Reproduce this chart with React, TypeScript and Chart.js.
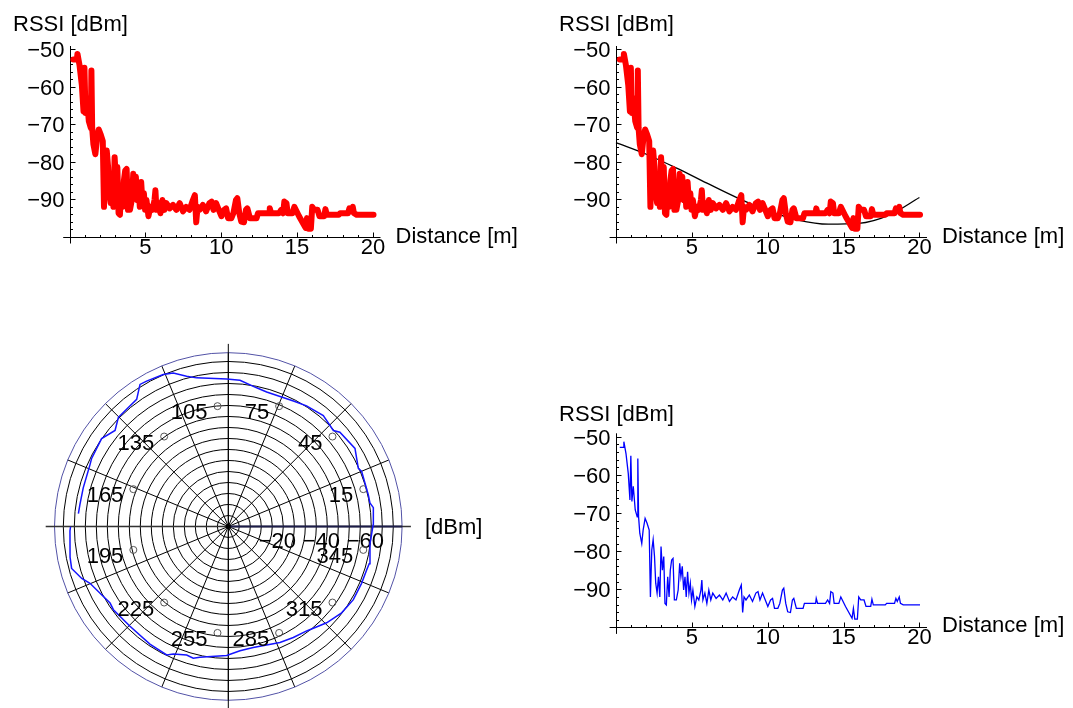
import { useEffect, useRef } from 'react';
import { Chart, registerables } from 'chart.js';

Chart.register(...registerables);

const FONT = '"Liberation Sans", "Helvetica Neue", Arial, sans-serif';
const MINUS = '\u2212';

// RSSI measured while walking away from the beacon (distance in m, RSSI in dBm)
const distance = [
  0.25, 0.48, 0.52, 0.66, 0.81, 0.92, 0.98, 1.05, 1.14, 1.27,
  1.40, 1.44, 1.49, 1.57, 1.70, 1.79, 1.92, 2.05, 2.19, 2.27,
  2.36, 2.45, 2.54, 2.62, 2.71, 2.80, 2.89, 2.97, 3.06, 3.15,
  3.23, 3.32, 3.41, 3.50, 3.58, 3.67, 3.76, 3.85, 3.98, 4.10,
  4.20, 4.28, 4.37, 4.46, 4.55, 4.63, 4.72, 4.81, 4.90, 4.98,
  5.07, 5.20, 5.33, 5.46, 5.60, 5.66, 5.73, 5.86, 5.99, 6.12,
  6.25, 6.38, 6.60, 6.82, 7.04, 7.26, 7.48, 7.69, 7.91, 8.13,
  8.26, 8.35, 8.44, 8.57, 8.79, 9.00, 9.22, 9.36, 9.49, 9.66,
  9.88, 10.01, 10.19, 10.32, 10.45, 10.67, 10.80, 10.97, 11.06, 11.19,
  11.32, 11.50, 11.63, 11.72, 11.89, 12.07, 12.33, 12.42, 12.94, 13.16,
  13.20, 13.29, 13.81, 13.95, 14.08, 14.16, 14.30, 14.38, 14.69, 14.82,
  15.13, 15.56, 15.65, 15.74, 15.91, 16.00, 16.13, 16.35, 16.48, 16.79,
  16.87, 16.96, 17.75, 17.84, 18.36, 18.45, 18.54, 18.67, 18.75, 18.93,
  20.04,
];
const rssi = [
  -52.8, -52.8, -51.3, -54.4, -59.6, -66.6, -55.0, -67.0, -63.0, -69.2,
  -71.0, -55.7, -71.0, -75.3, -78.0, -74.5, -71.4, -72.7, -74.5, -92.0,
  -79.7, -77.0, -81.4, -88.4, -91.0, -86.7, -92.0, -78.8, -85.0, -81.4,
  -93.7, -94.1, -86.7, -92.0, -85.0, -82.3, -81.9, -92.8, -92.8, -90.2,
  -83.2, -86.7, -84.0, -90.2, -86.7, -92.0, -85.4, -91.0, -88.4, -92.8,
  -90.2, -94.5, -92.0, -92.8, -90.2, -87.6, -92.8, -91.0, -93.7, -90.2,
  -92.8, -91.0, -92.4, -91.5, -92.8, -91.0, -93.2, -92.0, -92.8, -90.2,
  -88.9, -96.1, -92.0, -92.8, -91.5, -93.2, -91.0, -90.6, -92.8, -91.0,
  -93.2, -94.5, -92.8, -92.4, -95.0, -95.0, -93.7, -90.2, -89.7, -93.7,
  -95.9, -96.1, -92.8, -92.4, -95.0, -95.0, -95.0, -93.7, -93.7, -93.7,
  -92.4, -93.7, -93.7, -92.8, -93.7, -90.6, -91.0, -93.7, -93.7, -92.0,
  -94.5, -97.6, -95.0, -97.8, -97.8, -92.0, -92.8, -92.8, -94.5, -94.5,
  -92.6, -94.1, -94.1, -93.7, -93.7, -92.4, -93.2, -92.0, -93.7, -94.1,
  -94.1,
];

// Fitted trend through the trace
const fitDistance = [0, 2, 4, 6, 8, 10, 12, 14, 16, 18, 20];
const fitRssi = [-74.9, -78.0, -81.7, -85.7, -89.6, -93.0, -95.5, -96.6, -96.4, -94.2, -89.5];

// Axis ticks of the distance plots
const xMajorTicks = [5, 10, 15, 20];
const yMajorTicks = [-50, -60, -70, -80, -90];

// Radiation pattern: direction (deg) and RSSI (dBm)
const polarAngle = [
  -179.9, -178.4, -168.9, -164.8, -160.2, -157.4, -152.2, -146.7, -143.7, -134.2,
  -123.3, -115.3, -113.0, -107.7, -104.7, -102.1, -90.7, -84.7, -78.5, -66.3,
  -60.0, -53.5, -44.8, -37.7, -30.7, -23.4, -17.8, -15.0, -7.1, 0.9,
  7.5, 9.6, 13.0, 22.7, 24.4, 32.0, 40.6, 42.8, 49.8, 57.4,
  62.9, 74.3, 78.6, 85.5, 90.6, 101.9, 105.3, 109.5, 112.9, 119.0,
  121.5, 125.4, 134.8, 139.3, 144.9, 153.2, 155.7, 164.9, 171.4, 175.0,
];
const polarRssi = [
  -71.7, -72.0, -73.3, -73.8, -70.8, -68.1, -65.9, -64.3, -64.8, -64.1,
  -64.9, -65.5, -63.9, -62.2, -62.8, -61.7, -59.5, -57.5, -56.9, -58.4,
  -59.1, -59.9, -63.0, -65.1, -66.1, -66.0, -66.0, -66.3, -64.9, -65.9,
  -66.5, -65.3, -65.3, -65.7, -64.9, -67.9, -66.8, -65.1, -66.9, -66.0,
  -65.0, -64.4, -65.2, -67.6, -68.0, -70.0, -71.8, -75.0, -76.0, -76.6,
  -76.8, -71.9, -70.9, -67.9, -70.4, -69.6, -69.0, -68.3, -68.2, -68.4,
];
const polarRadialTicks = [-20, -40, -60];
const angleMarks = [15, 45, 75, 105, 135, 165, 195, 225, 255, 285, 315, 345];

// Polar grid geometry (radial units = |dBm|)
const RING_STEP = 5;
const RING_MAX = 75;
const FRAME_R = 79;
const AXIS_R = 83;
const MARK_RING = { cx: 9.1, cy: 3.2, r: 54.1 };

const rad = (d: number) => (d * Math.PI) / 180;

const cartesianAxes = {
  id: 'cartesianAxes',
  beforeDatasetsDraw(chart: any, _a: any, opts: any) {
    const { ctx } = chart;
    const xs = chart.scales.x;
    const ys = chart.scales.y;
    const ox = Math.round(xs.getPixelForValue(0)) + 0.5;
    const oy = Math.round(ys.getPixelForValue(-100)) + 0.5;
    ctx.save();
    ctx.strokeStyle = '#000';
    ctx.lineWidth = 1;
    ctx.beginPath();
    ctx.moveTo(xs.left, oy);
    ctx.lineTo(xs.right, oy);
    ctx.moveTo(ox, ys.top);
    ctx.lineTo(ox, ys.bottom);
    for (let v = 1; v <= 20; v++) {
      const px = Math.round(xs.getPixelForValue(v)) + 0.5;
      const len = v % 5 === 0 ? 5 : 2.5;
      ctx.moveTo(px, oy);
      ctx.lineTo(px, oy - len);
    }
    for (let v = -98; v <= -50; v += 2) {
      const py = Math.round(ys.getPixelForValue(v)) + 0.5;
      const len = v % 10 === 0 ? 5 : 2.5;
      ctx.moveTo(ox, py);
      ctx.lineTo(ox + len, py);
    }
    ctx.stroke();

    ctx.fillStyle = '#000';
    ctx.font = `22px ${FONT}`;
    ctx.textBaseline = 'alphabetic';
    ctx.textAlign = 'center';
    xMajorTicks.forEach((v) => ctx.fillText(String(v), xs.getPixelForValue(v), oy + 16.5));
    ctx.textAlign = 'right';
    yMajorTicks.forEach((v) => ctx.fillText(MINUS + Math.abs(v), ox - 6, ys.getPixelForValue(v) + 8));
    ctx.textAlign = 'left';
    ctx.fillText('Distance [m]', xs.right + 15, oy + opts.xTitleDy);
    ctx.textAlign = 'center';
    ctx.fillText('RSSI [dBm]', ox, ys.top - opts.yTitleGap);
    ctx.restore();
  },
};

const polarGrid = {
  id: 'polarGrid',
  beforeDatasetsDraw(chart: any) {
    const { ctx } = chart;
    const xs = chart.scales.x;
    const ys = chart.scales.y;
    const cx = xs.getPixelForValue(0);
    const cy = ys.getPixelForValue(0);
    const k = xs.getPixelForValue(1) - cx;
    ctx.save();
    ctx.strokeStyle = '#000';
    ctx.lineWidth = 1;
    ctx.beginPath();
    for (let r = RING_STEP; r <= RING_MAX; r += RING_STEP) {
      ctx.moveTo(cx + r * k, cy);
      ctx.arc(cx, cy, r * k, 0, Math.PI * 2);
    }
    for (let i = 0; i < 16; i++) {
      const a = rad(i * 22.5);
      ctx.moveTo(cx, cy);
      ctx.lineTo(cx + FRAME_R * k * Math.cos(a), cy - FRAME_R * k * Math.sin(a));
    }
    ctx.stroke();

    ctx.strokeStyle = '#5252a6';
    ctx.beginPath();
    ctx.arc(cx, cy, FRAME_R * k, 0, Math.PI * 2);
    ctx.stroke();

    // axes through the pole
    ctx.strokeStyle = '#333';
    ctx.lineWidth = 1.5;
    ctx.beginPath();
    ctx.moveTo(cx - AXIS_R * k, cy);
    ctx.lineTo(cx + AXIS_R * k, cy);
    ctx.stroke();
    ctx.strokeStyle = '#000';
    ctx.lineWidth = 1;
    ctx.beginPath();
    ctx.moveTo(cx, cy - AXIS_R * k);
    ctx.lineTo(cx, cy + AXIS_R * k);
    ctx.stroke();
    ctx.strokeStyle = '#1c1c48';
    ctx.lineWidth = 2;
    ctx.beginPath();
    ctx.moveTo(cx, cy);
    ctx.lineTo(cx + FRAME_R * k, cy);
    ctx.stroke();

    ctx.fillStyle = '#000';
    ctx.beginPath();
    ctx.arc(cx, cy, 2.5, 0, Math.PI * 2);
    ctx.fill();

    ctx.font = `22px ${FONT}`;
    ctx.textAlign = 'center';
    ctx.textBaseline = 'alphabetic';
    polarRadialTicks.forEach((v) => {
      ctx.fillText(MINUS + Math.abs(v), cx + Math.abs(v) * k + 5, cy + 22);
    });
    ctx.textAlign = 'left';
    ctx.textBaseline = 'middle';
    ctx.fillText('[dBm]', cx + AXIS_R * k + 14, cy + 1);
    ctx.restore();
  },
  afterDatasetsDraw(chart: any) {
    const { ctx } = chart;
    const meta = chart.getDatasetMeta(1);
    ctx.save();
    ctx.fillStyle = '#000';
    ctx.font = `22px ${FONT}`;
    ctx.textAlign = 'right';
    ctx.textBaseline = 'alphabetic';
    meta.data.forEach((pt: any, i: number) => {
      ctx.fillText(String(angleMarks[i]), pt.x - 10, pt.y + 13);
    });
    ctx.restore();
  },
};

type Box = { left: number; top: number; width: number; height: number };

function lineConfig(pad: any, xRange: number[], yRange: number[], datasets: any[], titles: any) {
  return {
    type: 'scatter',
    data: { datasets },
    options: {
      responsive: false,
      animation: false,
      devicePixelRatio: 1,
      events: [],
      layout: { padding: pad },
      plugins: { legend: { display: false }, tooltip: { enabled: false }, cartesianAxes: titles },
      scales: {
        x: { type: 'linear', display: false, min: xRange[0], max: xRange[1] },
        y: { type: 'linear', display: false, min: yRange[0], max: yRange[1] },
      },
    },
    plugins: [cartesianAxes],
  };
}

const trace = distance.map((d, i) => ({ x: d, y: rssi[i] }));
const fit = fitDistance.map((d, i) => ({ x: d, y: fitRssi[i] }));

const redTrace = {
  data: trace,
  showLine: true,
  borderColor: '#ff0000',
  backgroundColor: '#ff0000',
  borderWidth: 6,
  borderJoinStyle: 'round',
  borderCapStyle: 'round',
  pointRadius: 0,
  clip: false,
};

const panels: { box: Box; config: () => any }[] = [
  {
    box: { left: 0, top: 0, width: 540, height: 300 },
    config: () =>
      lineConfig({ left: 63.2, top: 46, right: 159.5, bottom: 56.5 }, [-0.42, 20.5], [-101.75, -49.2], [redTrace], {
        xTitleDy: 5,
        yTitleGap: 15,
      }),
  },
  {
    box: { left: 540, top: 0, width: 533, height: 300 },
    config: () =>
      lineConfig(
        { left: 69.6, top: 46, right: 146, bottom: 56.5 },
        [-0.42, 20.5],
        [-101.75, -49.2],
        [
          redTrace,
          {
            data: fit,
            showLine: true,
            borderColor: '#000',
            borderWidth: 1.3,
            pointRadius: 0,
            cubicInterpolationMode: 'monotone',
            clip: false,
          },
        ],
        { xTitleDy: 5, yTitleGap: 15 }
      ),
  },
  {
    box: { left: 540, top: 380, width: 533, height: 328 },
    config: () =>
      lineConfig(
        { left: 69.6, top: 53.3, right: 146, bottom: 74.1 },
        [-0.42, 20.5],
        [-101.7, -49.1],
        [
          {
            data: trace,
            showLine: true,
            borderColor: '#0000ff',
            borderWidth: 1.3,
            pointRadius: 0,
            clip: false,
          },
        ],
        { xTitleDy: 4, yTitleGap: 12 }
      ),
  },
  {
    box: { left: 0, top: 330, width: 540, height: 378 },
    config: () => ({
      type: 'scatter',
      data: {
        datasets: [
          {
            data: polarAngle.map((a, i) => ({
              x: Math.abs(polarRssi[i]) * Math.cos(rad(a)),
              y: Math.abs(polarRssi[i]) * Math.sin(rad(a)),
            })),
            showLine: true,
            borderColor: '#1414ff',
            borderWidth: 1.5,
            pointRadius: 0,
            clip: false,
          },
          {
            data: angleMarks.map((a) => ({
              x: MARK_RING.cx + MARK_RING.r * Math.cos(rad(a)),
              y: MARK_RING.cy + MARK_RING.r * Math.sin(rad(a)),
            })),
            showLine: false,
            pointRadius: 3.5,
            pointBorderWidth: 1,
            pointBorderColor: '#555',
            pointBackgroundColor: 'rgba(255,255,255,0)',
            clip: false,
          },
        ],
      },
      options: {
        responsive: false,
        animation: false,
        devicePixelRatio: 1,
        events: [],
        layout: { padding: { left: 45.7, right: 129.1, top: 16.4, bottom: 0 } },
        plugins: { legend: { display: false }, tooltip: { enabled: false } },
        scales: {
          x: { type: 'linear', display: false, min: -83, max: 83 },
          y: { type: 'linear', display: false, min: -81.36, max: 83 },
        },
      },
      plugins: [polarGrid],
    }),
  },
];

function Panel({ box, config }: { box: Box; config: () => any }) {
  const ref = useRef<HTMLCanvasElement>(null);
  useEffect(() => {
    const chart = new Chart(ref.current as HTMLCanvasElement, config());
    return () => chart.destroy();
  }, []);
  return (
    <canvas
      ref={ref}
      width={box.width}
      height={box.height}
      style={{ position: 'absolute', left: box.left, top: box.top, width: box.width, height: box.height }}
    />
  );
}

export default function App() {
  return (
    <div style={{ position: 'absolute', left: 0, top: 0, width: 1073, height: 708, background: '#fff', overflow: 'hidden' }}>
      {panels.map((p, i) => (
        <Panel key={i} box={p.box} config={p.config} />
      ))}
    </div>
  );
}
